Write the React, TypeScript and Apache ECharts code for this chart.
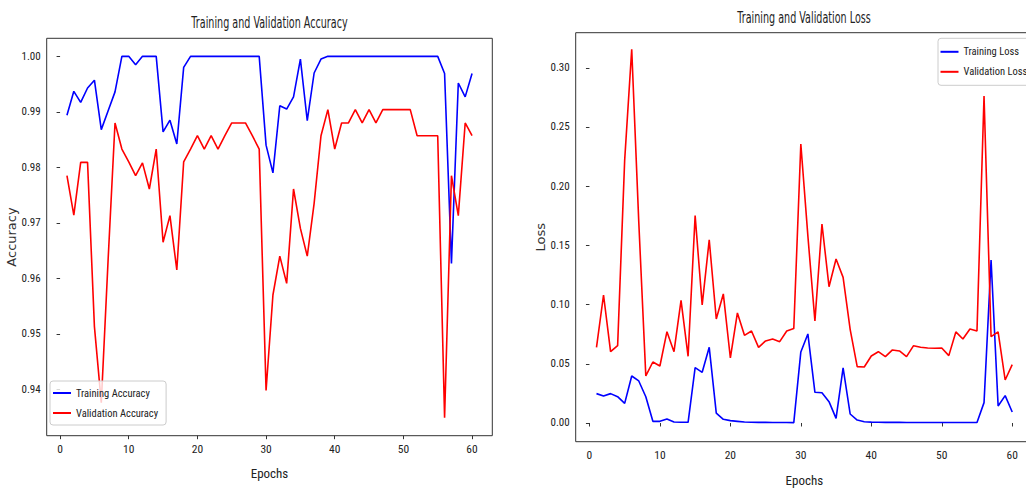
import React, { useEffect, useRef } from "react";
import * as echarts from "echarts";

const epochs = [
  1, 2, 3, 4, 5, 6, 7, 8, 9, 10, 11, 12, 13, 14, 15, 16, 17, 18, 19, 20,
  21, 22, 23, 24, 25, 26, 27, 28, 29, 30, 31, 32, 33, 34, 35, 36, 37, 38, 39, 40,
  41, 42, 43, 44, 45, 46, 47, 48, 49, 50, 51, 52, 53, 54, 55, 56, 57, 58, 59, 60,
];

const trainAcc = [
  0.9894, 0.9937, 0.9917, 0.9943, 0.9957, 0.9868, 0.9902, 0.9936, 1.0, 1.0,
  0.9985, 1.0, 1.0, 1.0, 0.9864, 0.9885, 0.9842, 0.998, 1.0, 1.0,
  1.0, 1.0, 1.0, 1.0, 1.0, 1.0, 1.0, 1.0, 1.0, 0.984,
  0.979, 0.9911, 0.9905, 0.9927, 0.9995, 0.9884, 0.997, 0.9995, 1.0, 1.0,
  1.0, 1.0, 1.0, 1.0, 1.0, 1.0, 1.0, 1.0, 1.0, 1.0,
  1.0, 1.0, 1.0, 1.0, 1.0, 0.9969, 0.9627, 0.9952, 0.9927, 0.9969,
];

const valAcc = [
  0.9785, 0.9714, 0.9809, 0.9809, 0.9513, 0.9376, 0.9635, 0.988, 0.9833, 0.981,
  0.9785, 0.9808, 0.9761, 0.9833, 0.9665, 0.9713, 0.9615, 0.981, 0.9833, 0.9857,
  0.9833, 0.9857, 0.9833, 0.9857, 0.988, 0.988, 0.988, 0.9857, 0.9833, 0.9398,
  0.957, 0.964, 0.9591, 0.9761, 0.969, 0.964, 0.9735, 0.9857, 0.9904, 0.9833,
  0.988, 0.988, 0.9904, 0.988, 0.9904, 0.988, 0.9904, 0.9904, 0.9904, 0.9904,
  0.9904, 0.9857, 0.9857, 0.9857, 0.9857, 0.9349, 0.9785, 0.9713, 0.988, 0.9857,
];

const trainLoss = [
  0.0248, 0.0228, 0.0248, 0.0222, 0.0166, 0.0397, 0.0355, 0.0222, 0.0014, 0.0014,
  0.0034, 0.0008, 0.0006, 0.0006, 0.0467, 0.0428, 0.0639, 0.0084, 0.0031, 0.002,
  0.0014, 0.0008, 0.0006, 0.0005, 0.0005, 0.0004, 0.0004, 0.0004, 0.0003, 0.06,
  0.0752, 0.0259, 0.0256, 0.018, 0.0039, 0.0465, 0.0076, 0.0025, 0.0011, 0.0007,
  0.0006, 0.0005, 0.0005, 0.0005, 0.0004, 0.0004, 0.0004, 0.0004, 0.0004, 0.0004,
  0.0004, 0.0004, 0.0004, 0.0004, 0.0004, 0.0172, 0.1377, 0.0144, 0.0231, 0.0093,
];

const valLoss = [
  0.0639, 0.1081, 0.0602, 0.0653, 0.222, 0.3156, 0.17, 0.0397, 0.0515, 0.0481,
  0.0771, 0.0602, 0.1036, 0.0563, 0.1751, 0.0997, 0.1546, 0.0878, 0.109, 0.0549,
  0.0929, 0.074, 0.0777, 0.0639, 0.0693, 0.0709, 0.0687, 0.0777, 0.0797, 0.2356,
  0.158, 0.0861, 0.168, 0.1151, 0.1385, 0.123, 0.0791, 0.0476, 0.0473, 0.0566,
  0.0602, 0.056, 0.0617, 0.0608, 0.056, 0.0653, 0.0639, 0.0633, 0.0631, 0.0633,
  0.0569, 0.0769, 0.0709, 0.0794, 0.0777, 0.2762, 0.0729, 0.0769, 0.0363, 0.0493,
];

const xTicks = [0, 10, 20, 30, 40, 50, 60];
const accTicks = [0.94, 0.95, 0.96, 0.97, 0.98, 0.99, 1.0];
const lossTicks = [0.0, 0.05, 0.1, 0.15, 0.2, 0.25, 0.3];

const NARROW = "'Roboto Condensed', 'Open Sans Condensed', sans-serif";
const DEJAVU = "'DejaVu Sans', sans-serif";
const TXT = "#222";

function pairs(vals: number[]) {
  return epochs.map((e, i) => [e, vals[i]]);
}

function xAxis(gridIndex: number, nameGap: number) {
  return {
    type: "value",
    gridIndex,
    min: -1.95,
    max: 62.95,
    name: "Epochs",
    nameLocation: "middle",
    nameGap,
    nameTextStyle: { fontFamily: NARROW, fontSize: 13, color: TXT },
    axisLine: { show: false },
    axisTick: { show: true, length: 3.5, inside: false, customValues: xTicks, lineStyle: { color: "#333", width: 1 } },
    axisLabel: {
      show: true,
      customValues: xTicks,
      margin: 7,
      fontFamily: NARROW,
      fontSize: 11.5,
      color: TXT,
      formatter: (v: number) => String(Math.round(v)),
    },
    splitLine: { show: false },
  };
}

function yAxis(gridIndex: number, name: string, min: number, max: number, ticks: number[], nameGap: number) {
  return {
    type: "value",
    gridIndex,
    min,
    max,
    name,
    nameLocation: "middle",
    nameGap,
    nameRotate: 90,
    nameTextStyle: { fontFamily: DEJAVU, fontSize: 13, color: "#333" },
    axisLine: { show: false },
    axisTick: { show: true, length: 3.5, inside: false, customValues: ticks, lineStyle: { color: "#333", width: 1 } },
    axisLabel: {
      show: true,
      customValues: ticks,
      margin: 6,
      fontFamily: NARROW,
      fontSize: 11,
      color: TXT,
      formatter: (v: number) => v.toFixed(2),
    },
    splitLine: { show: false },
  };
}

function titleText(text: string, cx: number, cy: number) {
  return {
    type: "text",
    x: cx,
    y: cy,
    scaleX: 0.6,
    style: {
      text,
      fontFamily: DEJAVU,
      fontSize: 16,
      fill: TXT,
      textAlign: "center",
      textVerticalAlign: "middle",
    },
  };
}

export default function App() {
  const ref = useRef<HTMLDivElement>(null);
  useEffect(() => {
    const chart = echarts.init(ref.current!, null, { renderer: "svg" });
    chart.setOption({
      animation: false,
      backgroundColor: "#ffffff",
      graphic: [
        titleText("Training and Validation Accuracy", 269.5, 23),
        titleText("Training and Validation Loss", 804, 17.5),
      ],
      grid: [
        {
          left: 46.7,
          top: 38.3,
          width: 445.6,
          height: 397.4,
          show: true,
          borderColor: "#333",
          borderWidth: 1,
          backgroundColor: "transparent",
          containLabel: false,
          outerBoundsMode: "none",
        },
        {
          left: 575.7,
          top: 32.7,
          width: 457.3,
          height: 409,
          show: true,
          borderColor: "#333",
          borderWidth: 1,
          backgroundColor: "transparent",
          containLabel: false,
          outerBoundsMode: "none",
        },
      ],
      xAxis: [xAxis(0, 31), xAxis(1, 32)],
      yAxis: [
        yAxis(0, "Accuracy", 0.93165, 1.00325, accTicks, 20),
        yAxis(1, "Loss", -0.0158, 0.3296, lossTicks, 23),
      ],
      legend: [
        {
          data: ["Training Accuracy", "Validation Accuracy"],
          orient: "vertical",
          left: 50,
          top: 381,
          padding: [6.5, 8, 6.5, 3],
          itemGap: 9,
          itemWidth: 18,
          itemHeight: 2,
          icon: "rect",
          backgroundColor: "rgba(255,255,255,0.8)",
          borderColor: "#cccccc",
          borderWidth: 1,
          borderRadius: 3,
          textStyle: { fontFamily: NARROW, fontSize: 10.5, color: TXT },
        },
        {
          data: ["Training Loss", "Validation Loss"],
          orient: "vertical",
          left: 938,
          top: 38.3,
          padding: [8, 8, 8, 2.5],
          itemGap: 9,
          itemWidth: 18,
          itemHeight: 2,
          icon: "rect",
          backgroundColor: "rgba(255,255,255,0.8)",
          borderColor: "#cccccc",
          borderWidth: 1,
          borderRadius: 3,
          textStyle: { fontFamily: NARROW, fontSize: 10.5, color: TXT },
        },
      ],
      series: [
        {
          name: "Training Accuracy",
          type: "line",
          xAxisIndex: 0,
          yAxisIndex: 0,
          data: pairs(trainAcc),
          symbol: "none",
          color: "#0000ff",
          lineStyle: { color: "#0000ff", width: 1.6 },
        },
        {
          name: "Validation Accuracy",
          type: "line",
          xAxisIndex: 0,
          yAxisIndex: 0,
          data: pairs(valAcc),
          symbol: "none",
          color: "#ff0000",
          lineStyle: { color: "#ff0000", width: 1.6 },
        },
        {
          name: "Training Loss",
          type: "line",
          xAxisIndex: 1,
          yAxisIndex: 1,
          data: pairs(trainLoss),
          symbol: "none",
          color: "#0000ff",
          lineStyle: { color: "#0000ff", width: 1.6 },
        },
        {
          name: "Validation Loss",
          type: "line",
          xAxisIndex: 1,
          yAxisIndex: 1,
          data: pairs(valLoss),
          symbol: "none",
          color: "#ff0000",
          lineStyle: { color: "#ff0000", width: 1.6 },
        },
      ],
    });
    return () => chart.dispose();
  }, []);
  return (
    <div
      ref={ref}
      style={{ position: "fixed", left: 0, top: 0, width: 1026, height: 489, background: "#fff" }}
    />
  );
}
